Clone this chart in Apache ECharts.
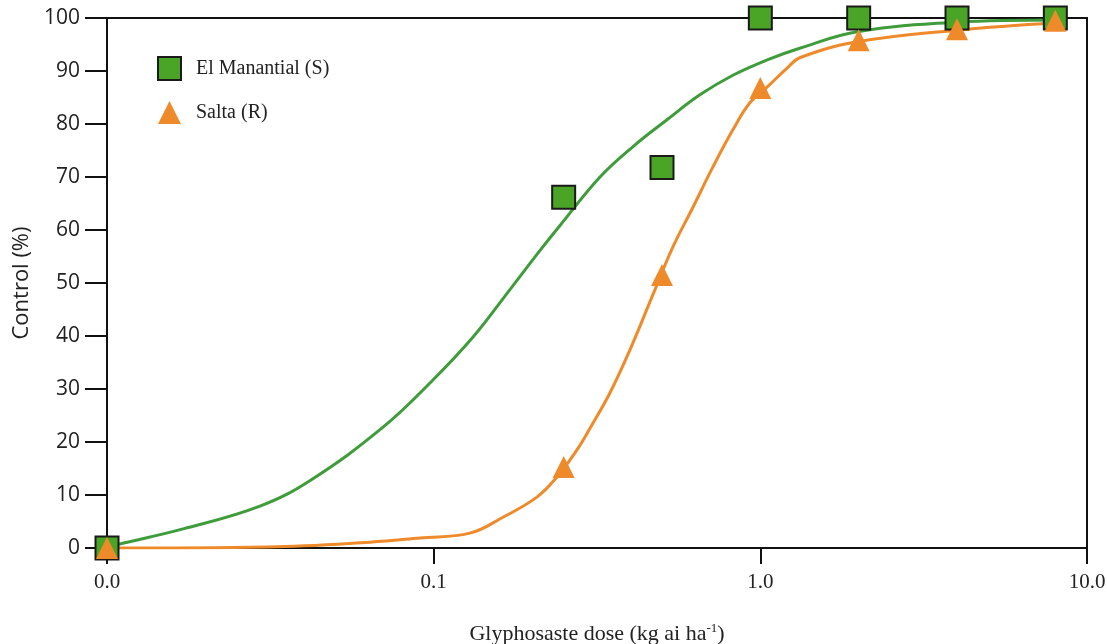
<!DOCTYPE html>
<html>
<head>
<meta charset="utf-8">
<script src="https://cdn.jsdelivr.net/npm/echarts@6/dist/echarts.min.js"></script>
<style>
  html, body { margin: 0; padding: 0; background: #ffffff; }
  #chart { width: 1107px; height: 644px; }
</style>
</head>
<body>
<div id="chart"></div>
<script>
// ---- data ----
const doses = [0.01, 0.25, 0.5, 1.0, 2.0, 4.0, 8.0];
const elManantialObs = [0, 66.2, 71.8, 100, 100, 100, 100];
const saltaObs = [0, 15.3, 51.5, 86.8, 95.8, 97.9, 99.5];

// fitted curves: dose and control %
const elManantialCurveDose = [0.01, 0.0107, 0.0171, 0.0294, 0.042, 0.070, 0.0995, 0.132, 0.168, 0.212, 0.244, 0.323, 0.407, 0.518, 0.653, 0.824, 1.05, 1.32, 1.98, 4.0, 8.09];
const elManantialCurveVal  = [0, 0.6, 3.6, 7.9, 12.8, 22.8, 31.7, 39.8, 48.1, 56.2, 60.9, 70.0, 75.7, 80.8, 85.5, 89.2, 92.1, 94.3, 97.4, 99.2, 99.6];
const saltaCurveDose = [0.01, 0.0309, 0.0638, 0.0908, 0.129, 0.163, 0.207, 0.2385, 0.2745, 0.301, 0.346, 0.399, 0.469, 0.540, 0.622, 0.716, 0.824, 0.929, 1.05, 1.21, 1.32, 1.98, 4.0, 8.09];
const saltaCurveVal  = [0, 0.2, 1.1, 1.9, 2.8, 5.8, 9.6, 13.4, 18.5, 22.6, 29.2, 37.4, 47.8, 56.8, 64.3, 71.9, 78.9, 84.0, 87.0, 90.6, 92.5, 95.5, 97.7, 99.1];

const xTickLabels = ['0.0', '0.1', '1.0', '10.0'];
const yTicks = [0, 10, 20, 30, 40, 50, 60, 70, 80, 90, 100];

const seriesNames = ['El Manantial (S)', 'Salta (R)'];
const xTitle = 'Glyphosaste dose (kg ai ha';
const xTitleSup = '-1';
const xTitleEnd = ')';
const yTitle = 'Control (%)';

// ---- chart ----
const green = '#4aa426';
const greenLine = '#3f9c3a';
const orange = '#ef8a2b';

const zip = (a, b) => a.map((v, i) => [v, b[i]]);

const chart = echarts.init(document.getElementById('chart'), null, { renderer: 'canvas' });
chart.setOption({
  backgroundColor: '#ffffff',
  animation: false,
  grid: {
    left: 107, right: 20, top: 18, bottom: 96,
    containLabel: false, outerBoundsMode: 'none',
    show: true, borderColor: '#111', borderWidth: 2, backgroundColor: 'transparent'
  },
  legend: {
    data: seriesNames,
    orient: 'vertical',
    left: 152, top: 51,
    itemWidth: 23, itemHeight: 23, itemGap: 20,
    textStyle: { fontFamily: 'Liberation Serif', fontSize: 20, color: '#222', padding: [0, 0, 0, 10] }
  },
  xAxis: {
    type: 'log', logBase: 10, min: 0.01, max: 10,
    name: '{a|' + xTitle + '}{s|' + xTitleSup + '}{a|' + xTitleEnd + '}',
    nameLocation: 'middle', nameGap: 74,
    nameTextStyle: {
      rich: {
        a: { fontFamily: 'Liberation Serif', fontSize: 22, color: '#222', lineHeight: 24 },
        s: { fontFamily: 'Liberation Serif', fontSize: 13, color: '#222', verticalAlign: 'top', lineHeight: 24 }
      }
    },
    axisLine: { show: true, lineStyle: { color: '#111', width: 2 } },
    axisTick: { show: true, inside: false, length: 16, lineStyle: { color: '#111', width: 2 } },
    minorTick: { show: false },
    splitLine: { show: false },
    axisLabel: {
      margin: 24,
      fontFamily: 'Liberation Serif', fontSize: 21, color: '#222',
      formatter: (v, i) => xTickLabels[i] !== undefined ? xTickLabels[i] : ''
    }
  },
  yAxis: {
    type: 'value', min: 0, max: 100, interval: 10,
    name: yTitle, nameLocation: 'middle', nameGap: 73, nameRotate: 90,
    nameTextStyle: { fontFamily: 'Open Sans', fontSize: 22, color: '#222' },
    axisLine: { show: true, lineStyle: { color: '#111', width: 2 } },
    axisTick: { show: true, inside: false, length: 22, lineStyle: { color: '#111', width: 2 } },
    splitLine: { show: false },
    axisLabel: {
      margin: 27,
      fontFamily: 'Open Sans', fontSize: 21, color: '#222',
      formatter: v => yTicks.includes(v) ? String(v) : ''
    }
  },
  series: [
    {
      name: 'El Manantial curve', type: 'line', smooth: 0.4, showSymbol: false, symbol: 'none',
      data: zip(elManantialCurveDose, elManantialCurveVal),
      lineStyle: { color: greenLine, width: 3 }, z: 2, silent: true
    },
    {
      name: 'Salta curve', type: 'line', smooth: 0.4, showSymbol: false, symbol: 'none',
      data: zip(saltaCurveDose, saltaCurveVal),
      lineStyle: { color: orange, width: 3 }, z: 2, silent: true
    },
    {
      name: seriesNames[0], type: 'scatter', symbol: 'rect', symbolSize: 23,
      data: zip(doses, elManantialObs),
      itemStyle: { color: green, borderColor: '#1a1a1a', borderWidth: 2, opacity: 1 }, z: 3
    },
    {
      name: seriesNames[1], type: 'scatter', symbol: 'triangle', symbolSize: 22,
      data: zip(doses, saltaObs),
      itemStyle: { color: orange, opacity: 1 }, z: 4
    }
  ]
});
</script>
</body>
</html>
